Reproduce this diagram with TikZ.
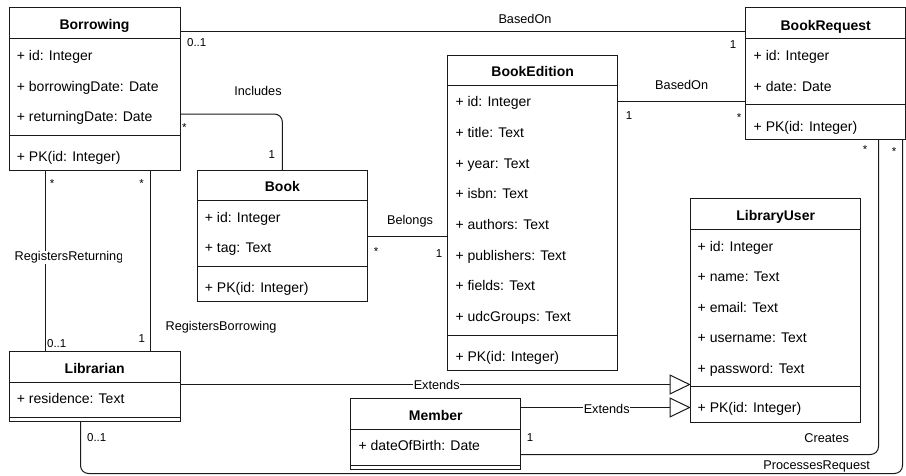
\documentclass[tikz,border=0pt]{standalone}
\usepackage{fontspec}
\setmainfont{Liberation Sans}
\usetikzlibrary{arrows.meta}

\definecolor{umlline}{HTML}{1A1A1A}

\tikzset{
  umlbox/.style={draw=umlline, line width=1pt, anchor=north west, inner sep=0pt, outer sep=0pt, fill=white},
  part/.style={draw=umlline, line width=1pt},
  ctitle/.style={font=\fontsize{14}{16}\selectfont\bfseries, inner sep=0pt, text height=10pt, text depth=3pt},
  attr/.style={anchor=west, font=\fontsize{14}{16}\selectfont, inner sep=0pt, text height=10pt, text depth=3pt},
  elabel/.style={font=\fontsize{12.7}{14}\selectfont, inner sep=0pt},
  onlabel/.style={elabel, fill=white, inner sep=0.8pt},
  mult/.style={font=\fontsize{11.5}{13}\selectfont, inner sep=0pt},
  conn/.style={draw=umlline, line width=1pt, rounded corners=8pt},
  gen/.style={conn, -{Triangle[open, length=21pt, width=20pt]}},
}

% attribute rows of a class: name, left x, list of y/text
\newcommand\umlrows[3]{%
  \foreach \ry/\rtext [count=\ri] in {#3} {\node[attr] (#1-\ri) at (#2,\ry) {\rtext};}}
% horizontal compartment divider of a class box at level y
\newcommand\umldivide[2]{\draw[part] (#1.west |- 0,#2) -- (#1.east |- 0,#2);}

\begin{document}
\begin{tikzpicture}[x=1pt, y=-1pt]
\useasboundingbox (0,0) rectangle (906,475);

% ---------- class boxes (outlines only, so the connectors can sit below) ----------
\node[umlbox, minimum width=171pt,   minimum height=163pt]   (borrowing) at (9,7) {};
\node[umlbox, minimum width=160pt,   minimum height=132.3pt] (bookreq)   at (745.7,7) {};
\node[umlbox, minimum width=170pt,   minimum height=315pt]   (edition)   at (447.7,55) {};
\node[umlbox, minimum width=170.7pt, minimum height=131.7pt] (book)      at (197,170) {};
\node[umlbox, minimum width=170pt,   minimum height=224pt]   (libuser)   at (690.7,198) {};
\node[umlbox, minimum width=170.7pt, minimum height=70pt]    (librarian) at (9.3,351.7) {};
\node[umlbox, minimum width=170pt,   minimum height=70.3pt]  (member)    at (350.7,398.7) {};

% ---------- associations ----------
\draw[conn] (borrowing.east |- 0,31.7) -- (bookreq.west |- 0,31.7);
\node[elabel] (lb-based1) at (525,19) {BasedOn};
\node[mult] (m-based1a) at (196.7,43) {0..1};
\node[mult] (m-based1b) at (733,45) {1};

\draw[conn] (borrowing.east |- 0,114) -| (book.north);
\node[elabel] (lb-includes) at (258,91) {Includes};
\node[mult] (m-inc-a) at (184.3,128) {*};
\node[mult] (m-inc-b) at (271.7,155) {1};

\draw[conn] (book.east |- 0,236) -- (edition.west |- 0,236);
\node[elabel] (lb-belongs) at (410,221) {Belongs};
\node[mult] (m-bel-a) at (376,252) {*};
\node[mult] (m-bel-b) at (439,254) {1};

\draw[conn] (edition.east |- 0,101.7) -- (bookreq.west |- 0,101.7);
\node[elabel] (lb-based2) at (681.7,85) {BasedOn};
\node[mult] (m-based2a) at (629,116) {1};
\node[mult] (m-based2b) at (739,118) {*};

\draw[conn] (borrowing.south -| 45.5,0) -- (librarian.north -| 45.5,0);
\begin{scope}
  \clip (0,240) rectangle (121.7,276);
  \node[onlabel] (lb-regret) at (69,257.7) {RegistersReturning};
\end{scope}
\node[mult] (m-ret-a) at (52,184) {*};
\node[mult] (m-ret-b) at (56.7,343.3) {0..1};

\draw[conn] (borrowing.south -| 150.5,0) -- (librarian.north -| 150.5,0);
\node[elabel] (lb-regbor) at (221,327.7) {RegistersBorrowing};
\node[mult] (m-bor-a) at (141.7,184) {*};
\node[mult] (m-bor-b) at (141.7,338.3) {1};

% ---------- generalisations ----------
\draw[gen] (librarian.east |- 0,384.5) -- (libuser.west |- 0,384.5);
\node[onlabel] (lb-ext1) at (436.7,385) {Extends};
\draw[gen] (member.east |- 0,407.5) -- (libuser.west |- 0,407.5);
\node[onlabel] (lb-ext2) at (606.7,409) {Extends};

% ---------- member creates requests, librarian processes them ----------
\draw[conn] (member.east |- 0,454.5) -| (bookreq.south -| 878.5,0);
\node[elabel] (lb-creates) at (826.7,437.7) {Creates};
\node[mult] (m-cr-a) at (530,437.7) {1};
\node[mult] (m-cr-b) at (865,150) {*};

\coordinate (pr-a) at (80.5,473.5);
\coordinate (pr-b) at (902.5,473.5);
\draw[conn] (librarian.south -| 80.5,0) -- (pr-a) -- (pr-b) -- (bookreq.south -| 902.5,0);
\node[elabel] (lb-proc) at (816.7,466) {ProcessesRequest};
\node[mult] (m-pr-a) at (96.7,438) {0..1};
\node[mult] (m-pr-b) at (894,152) {*};

% ---------- class contents ----------
% Borrowing
\node[ctitle] (borrowing-title) at (borrowing.north |- 0,25.5) {Borrowing};
\umldivide{borrowing}{38}
\umldivide{borrowing}{135}
\umlrows{borrowing}{16.7}{57/{+ id: Integer}, 87.7/{+ borrowingDate: Date}, 118.3/{+ returningDate: Date}, 157.7/{+ PK(id: Integer)}}

% BookRequest
\node[ctitle] (bookreq-title) at (bookreq.north |- 0,26.5) {BookRequest};
\umldivide{bookreq}{38}
\umldivide{bookreq}{104}
\umlrows{bookreq}{753.5}{56.7/{+ id: Integer}, 87.7/{+ date: Date}, 128.3/{+ PK(id: Integer)}}

% BookEdition
\node[ctitle] (edition-title) at (edition.north |- 0,72.5) {BookEdition};
\umldivide{edition}{85}
\umldivide{edition}{335}
\umlrows{edition}{455.3}{103/{+ id: Integer}, 134/{+ title: Text}, 164.7/{+ year: Text}, 195.3/{+ isbn: Text}, 226/{+ authors: Text}, 256.5/{+ publishers: Text}, 287/{+ fields: Text}, 317.7/{+ udcGroups: Text}, 358/{+ PK(id: Integer)}}

% Book
\node[ctitle] (book-title) at (book.north |- 0,188.3) {Book};
\umldivide{book}{200.7}
\umldivide{book}{266.7}
\umlrows{book}{204.7}{219/{+ id: Integer}, 249.3/{+ tag: Text}, 289/{+ PK(id: Integer)}}

% LibraryUser
\node[ctitle] (libuser-title) at (libuser.north |- 0,216.5) {LibraryUser};
\umldivide{libuser}{229}
\umldivide{libuser}{386.7}
\umlrows{libuser}{697.5}{247.7/{+ id: Integer}, 278/{+ name: Text}, 308.5/{+ email: Text}, 339/{+ username: Text}, 369.7/{+ password: Text}, 409.3/{+ PK(id: Integer)}}

% Librarian
\node[ctitle] (librarian-title) at (librarian.north |- 0,370) {Librarian};
\umldivide{librarian}{382}
\umldivide{librarian}{417.7}
\umlrows{librarian}{16.7}{400/{+ residence: Text}}

% Member
\node[ctitle] (member-title) at (member.north |- 0,416.7) {Member};
\umldivide{member}{429.3}
\umldivide{member}{465}
\umlrows{member}{358.3}{447.3/{+ dateOfBirth: Date}}

\end{tikzpicture}
\end{document}
